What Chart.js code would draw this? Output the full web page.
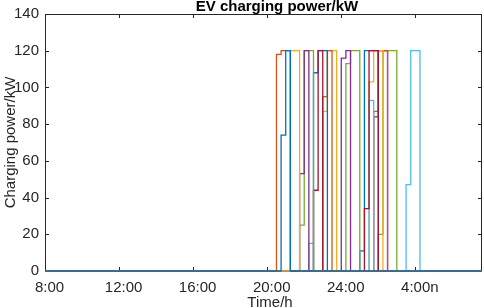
<!DOCTYPE html>
<html>
<head>
<meta charset="utf-8">
<script src="https://cdn.jsdelivr.net/npm/chart.js@4.4.1/dist/chart.umd.min.js"></script>
<style>
  body { margin: 0; background: #fff; }
  #powerChart { display: block; }
</style>
</head>
<body>
<canvas id="powerChart" width="484" height="308"></canvas>
<script>
// axis ticks
const timeTicks = [8, 12, 16, 20, 24, 28];
const timeTickLabels = ['8:00', '12:00', '16:00', '20:00', '24:00', '4:00n'];
const powerTicks = [0, 20, 40, 60, 80, 100, 120, 140];
const timeMin = 8;
const timeMax = 31.6;
const slotHours = 0.25;

// start time (h) of each EV, in drawing order
const evStart = [20.75, 20.5, 21.25, 21.75, 21.75, 22.5, 22.5, 22.25, 23.0, 23.0,
                 24.0, 24.25, 25.25, 25.0, 25.5, 25.5, 25.75, 25.75, 26.0, 27.5];

// charging power per 15 min slot (kW)
const ev1 = [74, 120];
const ev2 = [118, 120, 120];
const ev3 = [120, 120];
const ev4 = [53, 120];
const ev5 = [25, 120, 120];
const ev6 = [44, 120];
const ev7 = [108, 120, 120];
const ev8 = [15];
const ev9 = [95, 120];
const ev10 = [87, 120, 120];
const ev11 = [116, 120];
const ev12 = [113, 120, 120];
const ev13 = [34, 120, 120];
const ev14 = [11, 120, 120, 120];
const ev15 = [93];
const ev16 = [103, 120, 120];
const ev17 = [87, 120, 120];
const ev18 = [84, 120, 120];
const ev19 = [20, 120, 120, 120];
const ev20 = [47, 120, 120];

const evPower = [ev1, ev2, ev3, ev4, ev5, ev6, ev7, ev8, ev9, ev10,
                 ev11, ev12, ev13, ev14, ev15, ev16, ev17, ev18, ev19, ev20];

// matlab line colours
const cBlue = '#0072BD', cOrange = '#D95319', cYellow = '#EDB120', cPurple = '#7E2F8E',
      cGreen = '#77AC30', cLight = '#4DBEEE', cRed = '#A2142F';
const evColor = [cBlue, cOrange, cYellow, cPurple, cGreen, cRed, cBlue, cLight, cOrange, cYellow,
                 cPurple, cGreen, cRed, cBlue, cLight, cYellow, cOrange, cPurple, cGreen, cLight];

function stepPoints(start, power) {
    var pts = [{ x: timeMin, y: 0 }];
    power.forEach(function (p, i) {
        pts.push({ x: start + i * slotHours, y: p });
    });
    pts.push({ x: start + power.length * slotHours, y: 0 });
    pts.push({ x: timeMax, y: 0 });
    return pts;
}

var datasets = evPower.map(function (power, i) {
    return {
        label: 'EV' + (i + 1),
        data: stepPoints(evStart[i], power),
        borderColor: evColor[i],
        backgroundColor: evColor[i],
        borderWidth: 1.3,
        pointRadius: 0,
        stepped: true,
        fill: false,
        clip: false
    };
});

const axisColor = '#262626';
const fontName = '"Liberation Sans", Arial, sans-serif';

// box, inside ticks and all the text, matlab style
const matlabAxes = {
    id: 'matlabAxes',
    beforeDatasetsDraw: function (chart) {
        var ctx = chart.ctx, a = chart.chartArea;
        var xs = chart.scales.x, ys = chart.scales.y;
        ctx.save();
        ctx.strokeStyle = axisColor;
        ctx.lineWidth = 1;
        ctx.strokeRect(a.left + 0.5, a.top + 0.5, a.right - a.left - 1, a.bottom - a.top - 1);
        ctx.beginPath();
        timeTicks.forEach(function (t) {
            var px = Math.round(xs.getPixelForValue(t)) + 0.5;
            ctx.moveTo(px, a.bottom); ctx.lineTo(px, a.bottom - 4);
            ctx.moveTo(px, a.top); ctx.lineTo(px, a.top + 4);
        });
        powerTicks.forEach(function (v) {
            var py = Math.round(ys.getPixelForValue(v)) + 0.5;
            ctx.moveTo(a.left, py); ctx.lineTo(a.left + 4, py);
            ctx.moveTo(a.right, py); ctx.lineTo(a.right - 4, py);
        });
        ctx.stroke();
        ctx.restore();
    },
    afterDraw: function (chart) {
        var ctx = chart.ctx, a = chart.chartArea;
        var xs = chart.scales.x, ys = chart.scales.y;
        ctx.save();
        ctx.fillStyle = axisColor;
        ctx.font = '15px ' + fontName;
        ctx.textAlign = 'center';
        ctx.textBaseline = 'alphabetic';
        timeTicks.forEach(function (t, i) {
            ctx.fillText(timeTickLabels[i], xs.getPixelForValue(t) + 4.5, 292);
        });
        ctx.textAlign = 'right';
        ctx.textBaseline = 'middle';
        powerTicks.forEach(function (v) {
            ctx.fillText(String(v), 39, ys.getPixelForValue(v));
        });
        // axis labels
        ctx.textAlign = 'center';
        ctx.textBaseline = 'alphabetic';
        ctx.fillText('Time/h', 270, 307);
        ctx.save();
        ctx.translate(15, (a.top + a.bottom) / 2);
        ctx.rotate(-Math.PI / 2);
        ctx.fillText('Charging power/kW', 0, 0);
        ctx.restore();
        // title
        ctx.font = 'bold 15px ' + fontName;
        ctx.fillStyle = '#000';
        ctx.fillText('EV charging power/kW', 277, 11);
        ctx.restore();
    }
};

new Chart(document.getElementById("powerChart"), {
    type: 'line',
    data: { datasets: datasets },
    options: {
        responsive: false,
        animation: false,
        layout: { padding: { top: 14, right: 2, left: 0, bottom: 0 } },
        plugins: {
            legend: { display: false },
            tooltip: { enabled: false },
            title: { display: false }
        },
        scales: {
            x: {
                type: 'linear',
                min: timeMin,
                max: timeMax,
                grid: { display: false },
                border: { display: false },
                ticks: { display: false },
                afterFit: function (scale) { scale.height = 37; }
            },
            y: {
                min: 0,
                max: 140,
                grid: { display: false },
                border: { display: false },
                ticks: { display: false, stepSize: 20 },
                afterFit: function (scale) { scale.width = 45; }
            }
        }
    },
    plugins: [matlabAxes]
});
</script>
</body>
</html>
